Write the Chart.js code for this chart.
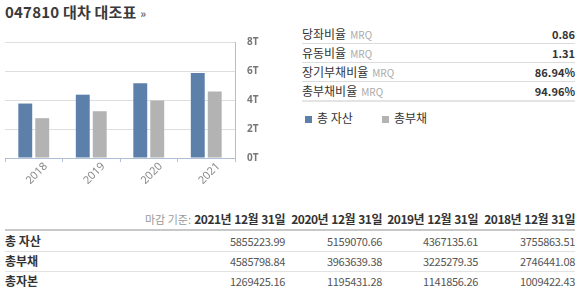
<!DOCTYPE html>
<html>
<head>
<meta charset="utf-8">
<script src="https://cdn.jsdelivr.net/npm/chart.js@4.4.0/dist/chart.umd.min.js"></script>
<style>
  body { margin: 0; width: 580px; height: 297px; background: #fff; position: relative; overflow: hidden;
         font-family: "Noto Sans CJK KR", "Noto Sans", sans-serif; color: #333; }
  .abs { position: absolute; white-space: nowrap; line-height: 1; }
  #title { left: 5px; top: 4px; font-size: 15px; font-weight: bold; color: #3a3a3a; letter-spacing: 0.2px; }
  #title span { font-size: 11px; color: #666; }
  #chartBox { position: absolute; left: 0; top: 24px; width: 270px; height: 162px; }
  .ratio { position: absolute; left: 302px; width: 273px; height: 18px; border-bottom: 1px solid #dcdcdc; font-size: 12px; line-height: 1; }
  .ratio .nm { position: absolute; left: 0; top: 3px; white-space: nowrap; }
  .ratio .nm small { font-size: 10px; color: #aaa; margin-left: 4px; }
  .ratio .v { position: absolute; right: 0; top: 4px; font-weight: bold; font-size: 11px; }
  .lg { font-size: 12px; }
  .sw { position: absolute; width: 7px; height: 7px; }
  .hline { position: absolute; left: 5px; width: 570px; }
  .cell { position: absolute; font-size: 11px; color: #555; text-align: right; letter-spacing: -0.3px; line-height: 1; white-space: nowrap; }
  .rl { position: absolute; left: 5px; font-size: 12px; font-weight: bold; color: #333; line-height: 1; }
  .hd { position: absolute; font-size: 12px; font-weight: bold; color: #333; text-align: right; letter-spacing: -0.5px; word-spacing: 1px; line-height: 1; white-space: nowrap; }
</style>
</head>
<body>
<div id="title" class="abs">047810 대차 대조표 <span>»</span></div>
<div id="chartBox"><canvas id="myChart"></canvas></div>
<div id="ratios"></div>
<div id="legend"></div>
<div id="table"></div>
<script>
// 연도 (차트 카테고리)
var years = ['2018', '2019', '2020', '2021'];
// 단위: 조원
var assets = [3.755863, 4.367136, 5.159071, 5.855224];
var liabilities = [2.746441, 3.225279, 3.963639, 4.585799];
var seriesNames = ['총 자산', '총부채'];
var yTicks = ['0T', '2T', '4T', '6T', '8T'];

// 오른쪽 비율 표
var ratioNames = ['당좌비율', '유동비율', '장기부채비율', '총부채비율'];
var ratioValues = ['0.86', '1.31', '86.94%', '94.96%'];

// 아래 표
var colDates = ['2021년 12월 31일', '2020년 12월 31일', '2019년 12월 31일', '2018년 12월 31일'];
var rowNames = ['총 자산', '총부채', '총자본'];
var totalAssets = ['5855223.99', '5159070.66', '4367135.61', '3755863.51'];
var totalDebt = ['4585798.84', '3963639.38', '3225279.35', '2746441.08'];
var totalEquity = ['1269425.16', '1195431.28', '1141856.26', '1009422.43'];

var barColors = ['#5d80ab', '#b3b3b3'];
var axisColor = '#aebfd6';

// ratios
var rhtml = '';
for (var i = 0; i < ratioNames.length; i++) {
    var rowTop = 25 + i * 19;
    var border = (i == ratioNames.length - 1) ? 'border-bottom:2px solid #e4e4e4;' : '';
    rhtml += '<div class="ratio" style="top:' + rowTop + 'px;' + border + '"><div class="nm">' + ratioNames[i] +
        '<small>MRQ</small></div><div class="v">' + ratioValues[i] + '</div></div>';
}
document.getElementById('ratios').innerHTML = rhtml;

// legend
var lhtml = '';
var lx = [305, 382];
for (var i = 0; i < seriesNames.length; i++) {
    lhtml += '<div class="sw" style="left:' + lx[i] + 'px;top:116px;background:' + barColors[i] + '"></div>';
    lhtml += '<div class="abs lg" style="left:' + (lx[i] + 12) + 'px;top:112px">' + seriesNames[i] + '</div>';
}
document.getElementById('legend').innerHTML = lhtml;

// table
var colRight = [285, 382, 478, 575];
var rows = [totalAssets, totalDebt, totalEquity];
var rowY = [234, 254, 274];
var thtml = '<div class="abs" style="left:145px;top:214px;font-size:11px;color:#999">마감 기준:</div>';
for (var c = 0; c < colDates.length; c++) {
    thtml += '<div class="hd" style="right:' + (580 - colRight[c]) + 'px;top:213px">' + colDates[c] + '</div>';
}
thtml += '<div class="hline" style="top:229px;height:2px;background:#c8c8c8"></div>';
for (var r = 0; r < rows.length; r++) {
    thtml += '<div class="rl" style="top:' + (rowY[r] + 1) + 'px">' + rowNames[r] + '</div>';
    for (var c = 0; c < colRight.length; c++) {
        thtml += '<div class="cell" style="right:' + (580 - colRight[c]) + 'px;top:' + (rowY[r] + 2) + 'px">' + rows[r][c] + '</div>';
    }
    if (r < rows.length - 1) {
        thtml += '<div class="hline" style="top:' + (rowY[r] + 17) + 'px;height:1px;background:#e2e2e2"></div>';
    }
}
document.getElementById('table').innerHTML = thtml;

// chart
var ctx = document.getElementById('myChart').getContext('2d');
var chart = new Chart(ctx, {
    type: 'bar',
    data: {
        labels: years,
        datasets: [
            { label: seriesNames[0], data: assets, backgroundColor: barColors[0] },
            { label: seriesNames[1], data: liabilities, backgroundColor: barColors[1] }
        ]
    },
    options: {
        responsive: true,
        maintainAspectRatio: false,
        animation: false,
        datasets: { bar: { categoryPercentage: 0.59, barPercentage: 0.82 } },
        layout: { padding: { left: 5, top: 10, right: 0, bottom: 0 } },
        plugins: { legend: { display: false }, tooltip: { enabled: false } },
        scales: {
            x: {
                grid: { drawOnChartArea: false, drawTicks: true, tickLength: 4, color: axisColor, offset: true },
                border: { color: axisColor, width: 1 },
                ticks: {
                    minRotation: 45, maxRotation: 45, labelOffset: 12, padding: -2,
                    color: '#888', font: { size: 11, family: 'Noto Sans' }
                },
                afterFit: function (s) { s.height = 28; }
            },
            y: {
                position: 'right',
                min: 0, max: 8,
                grid: { color: '#dedede', drawTicks: false },
                border: { color: axisColor, width: 1 },
                ticks: {
                    stepSize: 2, padding: 12, color: '#777',
                    font: { size: 10, family: 'Noto Sans', weight: 'bold' },
                    callback: function (v, i) { return yTicks[i]; }
                },
                afterFit: function (s) { s.width = 35; }
            }
        }
    }
});
</script>
</body>
</html>
